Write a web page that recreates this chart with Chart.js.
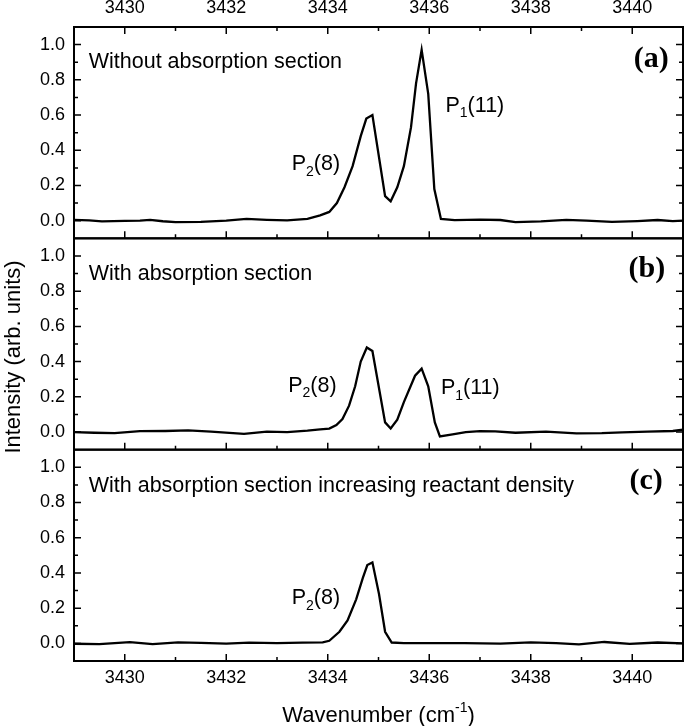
<!DOCTYPE html>
<html>
<head>
<meta charset="utf-8">
<script src="https://cdn.jsdelivr.net/npm/chart.js@4.4.1/dist/chart.umd.min.js"></script>
<style>
  html, body { margin: 0; padding: 0; background: #fff; }
  #wrap { width: 685px; height: 726px; }
</style>
</head>
<body>
<div id="wrap"><canvas id="spec" width="685" height="726"></canvas></div>
<script>
// --- axis ticks ---
const xTicks = [3430, 3432, 3434, 3436, 3438, 3440];
const yTicks = [0, 0.2, 0.4, 0.6, 0.8, 1.0];

// --- (a) without absorption section ---
const waveA = [3429.0, 3429.3, 3429.55, 3430.0, 3430.3, 3430.5, 3430.75, 3431.0, 3431.5, 3432.0,
  3432.4, 3432.8, 3433.2, 3433.6, 3433.85, 3434.03, 3434.18, 3434.33, 3434.49, 3434.65,
  3434.76, 3434.88, 3435.13, 3435.24, 3435.37, 3435.5, 3435.64, 3435.74, 3435.85, 3435.98,
  3436.1, 3436.23, 3436.5, 3437.0, 3437.4, 3437.7, 3438.2, 3438.7, 3439.1, 3439.6,
  3440.1, 3440.5, 3440.8, 3441.0];
const intA = [0.005, 0.002, -0.004, -0.001, 0.0, 0.005, -0.003, -0.008, -0.006, 0.0,
  0.01, 0.005, 0.002, 0.01, 0.03, 0.05, 0.10, 0.19, 0.31, 0.48,
  0.58, 0.60, 0.14, 0.11, 0.19, 0.31, 0.53, 0.78, 0.97, 0.72,
  0.18, 0.01, 0.003, 0.006, 0.004, -0.008, -0.004, 0.005, 0.001, -0.007,
  -0.002, 0.004, -0.002, 0.001];

// --- (b) with absorption section ---
const waveB = [3429.0, 3429.4, 3429.8, 3430.3, 3430.8, 3431.25, 3431.7, 3432.35, 3432.8, 3433.2,
  3433.6, 3433.85, 3434.03, 3434.17, 3434.29, 3434.42, 3434.54, 3434.65, 3434.77, 3434.88,
  3435.13, 3435.24, 3435.37, 3435.5, 3435.72, 3435.85, 3435.98, 3436.11, 3436.21, 3436.46,
  3436.72, 3437.0, 3437.3, 3437.7, 3438.3, 3438.9, 3439.4, 3439.8, 3440.3, 3440.8, 3441.0];
const intB = [0.0, -0.004, -0.006, 0.005, 0.006, 0.009, 0.002, -0.01, 0.002, 0.0,
  0.008, 0.015, 0.02, 0.04, 0.074, 0.15, 0.26, 0.40, 0.48, 0.46,
  0.055, 0.02, 0.07, 0.17, 0.32, 0.36, 0.26, 0.055, -0.025, -0.013,
  0.0, 0.005, 0.004, -0.004, 0.003, -0.007, -0.006, -0.002, 0.003, 0.006, 0.013];

// --- (c) with absorption section, increasing reactant density ---
const waveC = [3429.0, 3429.5, 3430.1, 3430.55, 3431.05, 3431.5, 3432.0, 3432.45, 3433.0, 3433.5,
  3433.9, 3434.03, 3434.23, 3434.39, 3434.56, 3434.69, 3434.78, 3434.88, 3435.01, 3435.13,
  3435.26, 3435.5, 3436.0, 3436.7, 3437.4, 3438.0, 3438.5, 3438.95, 3439.45, 3439.95,
  3440.5, 3441.0];
const intC = [-0.002, -0.004, 0.007, -0.004, 0.006, 0.003, -0.001, 0.004, 0.002, 0.004,
  0.006, 0.015, 0.066, 0.13, 0.25, 0.37, 0.445, 0.46, 0.28, 0.066,
  0.005, 0.002, 0.001, 0.002, -0.001, 0.006, 0.001, -0.006, 0.008, -0.003,
  0.005, 0.0];

const FONT = '"Liberation Sans", Arial, Helvetica, sans-serif';
const tickFont = { family: FONT, size: 18 };

const toPoints = (xs, ys) => xs.map((x, i) => ({ x: x, y: ys[i] }));

// text placed in data units of each panel
const notes = [
  { axis: 'yA', x: 3429.29, y: 0.867, parts: [['Without absorption section']] },
  { axis: 'yA', x: 3433.29, y: 0.288, parts: [['P'], ['2', 'sub'], ['(8)']] },
  { axis: 'yA', x: 3436.32, y: 0.619, parts: [['P'], ['1', 'sub'], ['(11)']] },
  { axis: 'yB', x: 3429.29, y: 0.864, parts: [['With absorption section']] },
  { axis: 'yB', x: 3433.22, y: 0.229, parts: [['P'], ['2', 'sub'], ['(8)']] },
  { axis: 'yB', x: 3436.23, y: 0.216, parts: [['P'], ['1', 'sub'], ['(11)']] },
  { axis: 'yC', x: 3429.29, y: 0.861, parts: [['With absorption section increasing reactant density']] },
  { axis: 'yC', x: 3433.29, y: 0.224, parts: [['P'], ['2', 'sub'], ['(8)']] }
];
const tags = [
  { axis: 'yA', x: 3440.72, y: 0.873, text: '(a)' },
  { axis: 'yB', x: 3440.65, y: 0.881, text: '(b)' },
  { axis: 'yC', x: 3440.6, y: 0.877, text: '(c)' }
];

function drawParts(ctx, parts, x, y, size) {
  parts.forEach(([t, mode]) => {
    const s = mode ? Math.round(size * 0.64) : size;
    ctx.font = s + 'px ' + FONT;
    let dy = 0;
    if (mode === 'sub') dy = size * 0.26;
    if (mode === 'sup') dy = -size * 0.42;
    ctx.fillText(t, x, y + dy);
    x += ctx.measureText(t).width;
  });
  return x;
}

function partsWidth(ctx, parts, size) {
  let w = 0;
  parts.forEach(([t, mode]) => {
    const s = mode ? Math.round(size * 0.64) : size;
    ctx.font = s + 'px ' + FONT;
    w += ctx.measureText(t).width;
  });
  return w;
}

const framePlugin = {
  id: 'frame',
  afterDatasetsDraw(chart) {
    const { ctx, chartArea: ca, scales } = chart;
    const xs = scales.x;
    ctx.save();
    ctx.strokeStyle = '#000';
    ctx.fillStyle = '#000';
    ['yA', 'yB', 'yC'].forEach((id, i) => {
      const s = scales[id];
      const top = s.top, bot = s.bottom;
      ctx.lineWidth = 1.5;
      ctx.beginPath();
      for (let v = 3430; v <= 3440; v++) {
        const px = xs.getPixelForValue(v);
        const len = v % 2 === 0 ? 7 : 4;
        ctx.moveTo(px, bot); ctx.lineTo(px, bot - len);
        if (i === 0) { ctx.moveTo(px, top); ctx.lineTo(px, top + len); }
      }
      for (let k = 0; k <= 10; k++) {
        const py = s.getPixelForValue(k / 10);
        const len = k % 2 === 0 ? 7 : 4;
        ctx.moveTo(ca.left, py); ctx.lineTo(ca.left + len, py);
        ctx.moveTo(ca.right, py); ctx.lineTo(ca.right - len, py);
      }
      ctx.stroke();
      ctx.lineWidth = 2;
      ctx.strokeRect(ca.left, top, ca.right - ca.left, bot - top);
    });

    // panel texts
    ctx.textAlign = 'left';
    ctx.textBaseline = 'alphabetic';
    notes.forEach(n => {
      drawParts(ctx, n.parts, xs.getPixelForValue(n.x), scales[n.axis].getPixelForValue(n.y), 21.5);
    });
    ctx.textAlign = 'right';
    ctx.font = 'bold 30px "Liberation Serif", "Times New Roman", serif';
    tags.forEach(t => {
      ctx.fillText(t.text, xs.getPixelForValue(t.x), scales[t.axis].getPixelForValue(t.y));
    });

    // axis titles
    ctx.textAlign = 'left';
    const xTitle = [['Wavenumber (cm'], ['-1', 'sup'], [')']];
    const w = partsWidth(ctx, xTitle, 22);
    drawParts(ctx, xTitle, (ca.left + ca.right) / 2 - w / 2, 721.5, 22);

    ctx.translate(20, 357);
    ctx.rotate(-Math.PI / 2);
    ctx.textAlign = 'center';
    ctx.font = '22px ' + FONT;
    ctx.fillText('Intensity (arb. units)', 0, 0);
    ctx.restore();
  }
};

function yScale(weight) {
  return {
    type: 'linear',
    position: 'left',
    stack: 'panels',
    stackWeight: 1,
    weight: weight,
    min: -0.1,
    max: 1.1,
    afterBuildTicks: s => { s.ticks = yTicks.map(v => ({ value: v })); },
    afterFit: s => { s.width = 74; },
    ticks: { font: tickFont, color: '#000', padding: 9, autoSkip: false, callback: v => v.toFixed(1) },
    grid: { display: false, drawTicks: false },
    border: { display: false }
  };
}

function xScale(position, height, pad) {
  return {
    type: 'linear',
    position: position,
    min: 3429,
    max: 3441,
    afterBuildTicks: s => { s.ticks = xTicks.map(v => ({ value: v })); },
    afterFit: s => { s.height = height; },
    ticks: { font: tickFont, color: '#000', padding: pad, autoSkip: false, maxRotation: 0, callback: v => String(v) },
    grid: { display: false, drawTicks: false },
    border: { display: false }
  };
}

const lineStyle = { borderColor: '#000', borderWidth: 2.3, pointRadius: 0, tension: 0, fill: false };

new Chart(document.getElementById('spec'), {
  type: 'line',
  data: {
    datasets: [
      { ...lineStyle, label: '(a)', data: toPoints(waveA, intA), xAxisID: 'x', yAxisID: 'yA' },
      { ...lineStyle, label: '(b)', data: toPoints(waveB, intB), xAxisID: 'x', yAxisID: 'yB' },
      { ...lineStyle, label: '(c)', data: toPoints(waveC, intC), xAxisID: 'x', yAxisID: 'yC' }
    ]
  },
  options: {
    responsive: false,
    animation: false,
    devicePixelRatio: 1,
    layout: { padding: { left: 0, right: 2, top: 0, bottom: 0 } },
    plugins: { legend: { display: false }, tooltip: { enabled: false } },
    scales: {
      x: xScale('bottom', 65, 6),
      xTop: xScale('top', 27, 8),
      yC: yScale(1),
      yB: yScale(2),
      yA: yScale(3)
    }
  },
  plugins: [framePlugin]
});
</script>
</body>
</html>
